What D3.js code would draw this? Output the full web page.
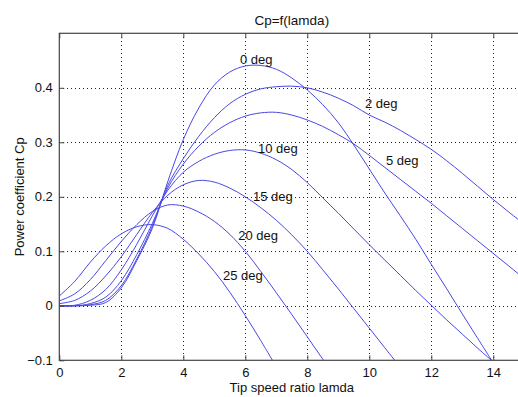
<!DOCTYPE html>
<html>
<head>
<meta charset="utf-8">
<script src="https://cdn.jsdelivr.net/npm/d3@7"></script>
<style>
  html, body { margin: 0; padding: 0; background: #fff; }
  svg { display: block; }
  text { font-family: "Liberation Sans", Arial, Helvetica, sans-serif; fill: #111; }
</style>
</head>
<body>
<svg id="chart" width="518" height="397"></svg>
<script>
// Tip speed ratio samples shared by every pitch-angle curve
const lamda = [0, 0.5, 1, 1.5, 2, 2.5, 3, 3.5, 4, 4.5, 5, 5.5, 6, 6.5, 7, 7.5,
               8, 8.5, 9, 9.5, 10, 10.5, 11, 11.5, 12, 12.5, 13, 13.5, 14, 14.5, 15];

// Power coefficient for each blade pitch angle
const cp0  = [0, 0, 0.001, 0.006, 0.033, 0.083, 0.142, 0.228, 0.305, 0.363, 0.405, 0.429, 0.44, 0.441,
              0.434, 0.418, 0.396, 0.369, 0.336, 0.295, 0.251, 0.207, 0.165, 0.122, 0.076, 0.031,
              -0.015, -0.06, -0.105];
const cp2  = [0, 0, 0.002, 0.01, 0.037, 0.086, 0.146, 0.221, 0.27, 0.311, 0.345, 0.371, 0.388, 0.398,
              0.402, 0.403, 0.4, 0.392, 0.381, 0.367, 0.35, 0.337, 0.322, 0.305, 0.287, 0.266, 0.243,
              0.219, 0.195, 0.172, 0.15];
const cp5  = [0, 0, 0.004, 0.016, 0.046, 0.094, 0.151, 0.216, 0.26, 0.293, 0.318, 0.336, 0.348, 0.354,
              0.355, 0.35, 0.341, 0.329, 0.314, 0.297, 0.276, 0.254, 0.232, 0.21, 0.188, 0.165, 0.142,
              0.119, 0.096, 0.073, 0.05];
const cp10 = [0, 0.001, 0.01, 0.03, 0.066, 0.113, 0.165, 0.212, 0.245, 0.265, 0.278, 0.285, 0.286, 0.28,
              0.268, 0.25, 0.226, 0.198, 0.17, 0.141, 0.112, 0.084, 0.056, 0.028, 0.001, -0.026, -0.052,
              -0.078, -0.103];
const cp15 = [0.004, 0.01, 0.027, 0.055, 0.09, 0.131, 0.171, 0.203, 0.222, 0.23, 0.227, 0.216, 0.2, 0.18,
              0.157, 0.13, 0.1, 0.066, 0.031, -0.005, -0.041, -0.077, -0.113];
const cp20 = [0.009, 0.022, 0.048, 0.083, 0.118, 0.149, 0.173, 0.185, 0.183, 0.172, 0.155, 0.131, 0.1,
              0.063, 0.024, -0.016, -0.057, -0.098, -0.14];
const cp25 = [0.018, 0.045, 0.08, 0.11, 0.132, 0.145, 0.149, 0.142, 0.122, 0.095, 0.063, 0.025, -0.018,
              -0.064, -0.112];

const pitchNames = ["0 deg", "2 deg", "5 deg", "10 deg", "15 deg", "20 deg", "25 deg"];
const pitchSeries = [cp0, cp2, cp5, cp10, cp15, cp20, cp25];
// Where each curve's name is written, in (lamda, Cp) units
const nameLamda = [5.83, 9.86, 10.54, 6.41, 6.25, 5.77, 5.28];
const nameCp    = [0.443, 0.363, 0.2585, 0.280, 0.193, 0.121, 0.0475];

const xTicks = [0, 2, 4, 6, 8, 10, 12, 14];
const yTicks = [-0.1, 0, 0.1, 0.2, 0.3, 0.4];
const yTickText = ["\u22120.1", "0", "0.1", "0.2", "0.3", "0.4"];

const titleText = "Cp=f(lamda)";
const xLabelText = "Tip speed ratio lamda";
const yLabelText = "Power coefficient Cp";

// Plot frame (the right edge lies just past the visible area)
const frameLeft = 59.3, frameTop = 33.3, frameBottom = 360.3, frameRight = 524.3;

const svg = d3.select("#chart");
const x = d3.scaleLinear().domain([0, 15]).range([frameLeft, frameRight]);
const y = d3.scaleLinear().domain([-0.1, 0.5]).range([frameBottom, frameTop]);

svg.append("defs").append("clipPath").attr("id", "plotClip")
  .append("rect").attr("x", frameLeft).attr("y", frameTop)
  .attr("width", frameRight - frameLeft).attr("height", frameBottom - frameTop);

// Dotted grid
const grid = svg.append("g").attr("stroke", "#222").attr("stroke-width", 1)
  .attr("stroke-dasharray", "1,3").attr("shape-rendering", "crispEdges");
grid.selectAll("line.v").data(xTicks.filter(t => t > 0)).join("line")
  .attr("class", "v")
  .attr("x1", d => Math.round(x(d)) + 0.5).attr("x2", d => Math.round(x(d)) + 0.5)
  .attr("y1", frameTop).attr("y2", frameBottom);
grid.selectAll("line.h").data(yTicks.filter(t => t > -0.1)).join("line")
  .attr("class", "h")
  .attr("y1", d => Math.round(y(d)) + 0.5).attr("y2", d => Math.round(y(d)) + 0.5)
  .attr("x1", frameLeft).attr("x2", frameRight);

// Curves
const line = d3.line()
  .x(d => x(d[0])).y(d => y(d[1]))
  .curve(d3.curveCatmullRom.alpha(0.5));

svg.append("g").attr("clip-path", "url(#plotClip)")
  .selectAll("path").data(pitchSeries).join("path")
  .attr("d", s => line(s.map((v, i) => [lamda[i], v])))
  .attr("fill", "none").attr("stroke", "#4848e6").attr("stroke-width", 1);

// Axes in a box, ticks pointing inwards
const axisColor = "#444";
const xAxisB = d3.axisBottom(x).tickValues(xTicks).tickSize(-5).tickPadding(7.5).tickFormat(d3.format("d"));
const xAxisT = d3.axisTop(x).tickValues(xTicks).tickSize(-5).tickFormat("");
const yAxisL = d3.axisLeft(y).tickValues(yTicks).tickSize(-5).tickPadding(6.5)
  .tickFormat((d, i) => yTickText[i]);

function styleAxis(g) {
  g.select(".domain").remove();
  g.selectAll(".tick line").attr("stroke", axisColor);
  g.selectAll(".tick text").attr("fill", "#111").attr("font-size", 13)
    .attr("font-family", "Liberation Sans, Arial, sans-serif");
}
svg.append("g").attr("transform", `translate(0,${frameBottom})`).call(xAxisB).call(styleAxis);
svg.append("g").attr("transform", `translate(0,${frameTop})`).call(xAxisT).call(styleAxis);
svg.append("g").attr("transform", `translate(${frameLeft},0)`).call(yAxisL).call(styleAxis);
svg.append("rect").attr("x", frameLeft).attr("y", frameTop)
  .attr("width", frameRight - frameLeft).attr("height", frameBottom - frameTop)
  .attr("fill", "none").attr("stroke", axisColor).attr("stroke-width", 1.2);

// Curve names
svg.append("g").selectAll("text").data(pitchNames).join("text")
  .attr("x", (d, i) => x(nameLamda[i])).attr("y", (d, i) => y(nameCp[i]))
  .attr("font-size", 13).text(d => d);

// Title and axis labels
svg.append("text").attr("x", (frameLeft + frameRight) / 2).attr("y", 25)
  .attr("text-anchor", "middle").attr("font-size", 13.5).text(titleText);
svg.append("text").attr("x", (frameLeft + frameRight) / 2).attr("y", 392)
  .attr("text-anchor", "middle").attr("font-size", 13).text(xLabelText);
svg.append("text").attr("transform", `translate(24,${(frameTop + frameBottom) / 2}) rotate(-90)`)
  .attr("text-anchor", "middle").attr("font-size", 13).text(yLabelText);
</script>
</body>
</html>
